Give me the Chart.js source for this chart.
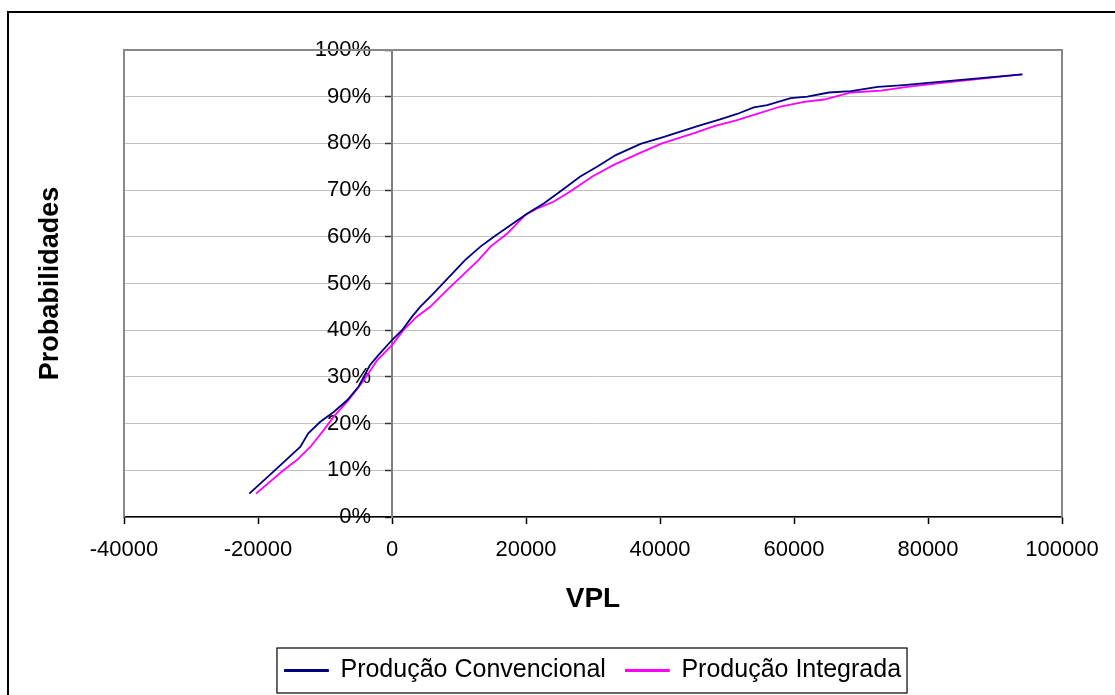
<!DOCTYPE html>
<html>
<head>
<meta charset="utf-8">
<script src="https://cdn.jsdelivr.net/npm/chart.js@4.4.0/dist/chart.umd.min.js"></script>
<style>
  html, body { margin: 0; padding: 0; background: #fff; }
  #wrap { width: 1115px; height: 695px; position: relative; }
</style>
</head>
<body>
<div id="wrap"><canvas id="vplChart"></canvas></div>
<script>
// values (VPL, probability in %)
const convX = [-21300, -17700, -13700, -12500, -10700, -8700, -6700, -5000, -3300, -2000, 0, 1500, 3000, 4200, 6200, 10900, 13200, 15200, 20200, 22700, 25100, 28100, 30600, 33400, 37100, 40600, 45600, 49100, 51500, 54000, 56000, 59500, 62000, 65200, 68500, 72500, 76400, 80400, 94100];
const convY = [5.0, 9.7, 15.0, 17.9, 20.4, 22.5, 25.0, 27.9, 32.5, 34.7, 37.9, 40.0, 42.9, 45.0, 47.9, 55.0, 57.9, 60.0, 65.0, 67.2, 69.7, 72.9, 75.0, 77.5, 79.9, 81.4, 83.7, 85.2, 86.3, 87.7, 88.2, 89.7, 90.0, 90.9, 91.2, 92.1, 92.5, 93.0, 94.8];

const integX = [-20300, -16200, -14200, -12200, -10200, -8700, -6500, -4200, -2200, 0, 1700, 3700, 5700, 8200, 12900, 14700, 17200, 19900, 21700, 24100, 26600, 29900, 33100, 36600, 40300, 45100, 48100, 51500, 54500, 58000, 61500, 64500, 68500, 73000, 76900, 80400, 94000];
const integY = [5.0, 10.0, 12.2, 15.0, 18.6, 21.5, 25.0, 29.3, 33.6, 36.8, 40.0, 42.9, 45.0, 48.6, 55.0, 57.9, 60.7, 64.7, 66.1, 67.5, 69.7, 72.9, 75.4, 77.7, 80.0, 82.2, 83.7, 85.0, 86.3, 87.9, 88.9, 89.4, 90.9, 91.3, 92.1, 92.7, 94.8];

const seriesNames = ["Produção Convencional", "Produção Integrada"];
const xMin = -40000, xMax = 100000, xStep = 20000;
const yMin = 0, yMax = 100, yStep = 10;
const yCrossAt = 0; // value axis crosses the category axis at VPL = 0

const FONT = "'Liberation Sans', Arial, sans-serif";

function toPoints(xs, ys) {
  return xs.map((x, i) => ({ x: x, y: ys[i] }));
}

// move the y axis to x = 0 and centre the legend under the plot
const crossPlugin = {
  id: "cross",
  afterLayout(chart) {
    const y = chart.scales.y;
    const px = chart.scales.x.getPixelForValue(yCrossAt);
    y.right = px;
    y.left = px - 80;
    y.width = 80;
    const lg = chart.legend;
    const a = chart.chartArea;
    const d = (a.left + a.right) / 2 - (lg.left + lg.right) / 2;
    lg.left += d;
    lg.right += d;
  }
};

// outer frame, plot frame and legend box like the Excel original
const framePlugin = {
  id: "frames",
  beforeDraw(chart) {
    const ctx = chart.ctx;
    ctx.save();
    ctx.fillStyle = "#fff";
    ctx.fillRect(0, 0, chart.width, chart.height);
    ctx.strokeStyle = "#000";
    ctx.lineWidth = 2;
    ctx.strokeRect(8, 12, chart.width + 50, chart.height + 50);
    ctx.restore();
  },
  beforeDatasetsDraw(chart) {
    const { ctx, chartArea: a } = chart;
    ctx.save();
    ctx.strokeStyle = "#888";
    ctx.lineWidth = 2;
    ctx.beginPath();
    ctx.moveTo(a.left, a.bottom);
    ctx.lineTo(a.left, a.top);
    ctx.lineTo(a.right, a.top);
    ctx.lineTo(a.right, a.bottom);
    ctx.stroke();
    ctx.restore();
  },
  afterDraw(chart) {
    const hb = chart.legend.legendHitBoxes;
    if (!hb || !hb.length) return;
    const last = hb[hb.length - 1];
    const x1 = hb[0].left - 8;
    const x2 = last.left + last.width + 6;
    const y1 = hb[0].top - 10;
    const y2 = hb[0].top + hb[0].height + 10;
    const ctx = chart.ctx;
    ctx.save();
    ctx.strokeStyle = "#000";
    ctx.lineWidth = 1.2;
    ctx.strokeRect(x1, y1, x2 - x1, y2 - y1);
    ctx.restore();
  }
};

const ctx = document.getElementById("vplChart").getContext("2d");

new Chart(ctx, {
  type: "scatter",
  data: {
    datasets: [
      {
        label: seriesNames[0],
        data: toPoints(convX, convY),
        showLine: true,
        borderColor: "#000080",
        backgroundColor: "#000080",
        borderWidth: 1.8,
        pointRadius: 0,
        tension: 0,
        yAxisID: "y",
      },
      {
        label: seriesNames[1],
        data: toPoints(integX, integY),
        showLine: true,
        borderColor: "#ff00ff",
        backgroundColor: "#ff00ff",
        borderWidth: 1.8,
        pointRadius: 0,
        tension: 0,
        yAxisID: "y",
      },
    ],
  },
  options: {
    responsive: true,
    maintainAspectRatio: false,
    animation: false,
    layout: { padding: { left: 0, right: 53, top: 50, bottom: 2 } },
    plugins: {
      tooltip: { enabled: false },
      legend: {
        position: "bottom",
        labels: {
          color: "#000",
          font: { family: FONT, size: 25 },
          boxWidth: 43,
          boxHeight: 1,
          padding: 20,
        },
      },
    },
    scales: {
      x: {
        type: "linear",
        min: xMin,
        max: xMax,
        afterFit: (s) => { s.height = 121; s.paddingLeft = 0; s.paddingRight = 0; },
        ticks: {
          stepSize: xStep,
          color: "#000",
          font: { family: FONT, size: 22 },
          padding: 13,
          maxRotation: 0,
          callback: (v) => String(v),
        },
        grid: { display: true, drawOnChartArea: false, drawTicks: true, tickLength: 7, tickColor: "#000", tickWidth: 1.5 },
        border: { display: true, color: "#000", width: 1.5 },
        title: {
          display: true,
          text: "VPL",
          color: "#000",
          font: { family: FONT, size: 28, weight: "bold" },
          padding: { top: 0, bottom: 22 },
        },
      },
      y: {
        type: "linear",
        position: "left",
        min: yMin,
        max: yMax,
        afterFit: (s) => { s.width = 0; s.paddingTop = 0; s.paddingBottom = 0; },
        ticks: {
          stepSize: yStep,
          color: "#000",
          font: { family: FONT, size: 22 },
          padding: 14,
          callback: (v) => v + "%",
        },
        grid: { color: "#c0c0c0", lineWidth: 1, tickLength: 7, tickColor: "#333", tickWidth: 1.5 },
        border: { display: true, color: "#808080", width: 2 },
      },
      yTitle: {
        type: "linear",
        position: "left",
        afterFit: (s) => { s.width = 124; s.paddingTop = 0; s.paddingBottom = 0; },
        ticks: { display: false },
        grid: { display: false, drawTicks: false },
        border: { display: false },
        title: {
          display: true,
          text: "Probabilidades",
          color: "#000",
          font: { family: FONT, size: 27, weight: "bold" },
          padding: { top: 34, bottom: 0 },
        },
      },
    },
  },
  plugins: [crossPlugin, framePlugin],
});
</script>
</body>
</html>
